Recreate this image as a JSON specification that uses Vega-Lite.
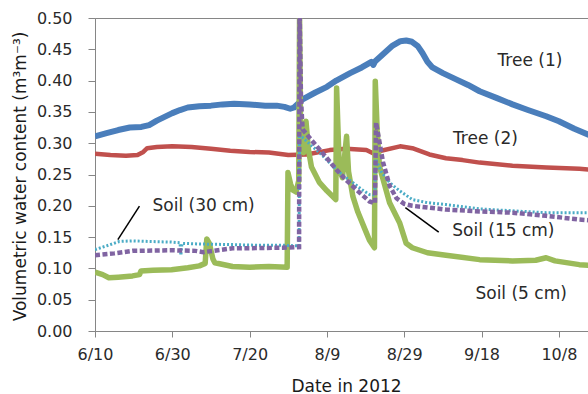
{
  "$schema": "https://vega.github.io/schema/vega-lite/v6.json",
  "width": 494,
  "height": 313,
  "autosize": {"type": "none"},
  "padding": {"left": 95, "top": 18, "right": 0, "bottom": 63},
  "background": "white",
  "config": {
    "font": "DejaVu Sans",
    "view": {"stroke": "#868686", "strokeWidth": 1},
    "axis": {
      "grid": false,
      "domainColor": "#868686",
      "tickColor": "#868686",
      "labelColor": "#2a2a2a",
      "titleColor": "#1a1a1a",
      "labelFontSize": 16,
      "titleFontSize": 17,
      "titleFontWeight": "normal",
      "labelFont": "DejaVu Sans",
      "titleFont": "DejaVu Sans"
    }
  },
  "datasets": {
    "series": [
      {"s": "T1", "date": "2012-06-10", "value": 0.311},
      {"s": "T1", "date": "2012-06-13", "value": 0.316},
      {"s": "T1", "date": "2012-06-16", "value": 0.321},
      {"s": "T1", "date": "2012-06-19", "value": 0.325},
      {"s": "T1", "date": "2012-06-22", "value": 0.326},
      {"s": "T1", "date": "2012-06-24", "value": 0.329},
      {"s": "T1", "date": "2012-06-26", "value": 0.336},
      {"s": "T1", "date": "2012-06-28", "value": 0.342},
      {"s": "T1", "date": "2012-06-30", "value": 0.348},
      {"s": "T1", "date": "2012-07-02", "value": 0.353},
      {"s": "T1", "date": "2012-07-04", "value": 0.357},
      {"s": "T1", "date": "2012-07-07", "value": 0.359},
      {"s": "T1", "date": "2012-07-10", "value": 0.360},
      {"s": "T1", "date": "2012-07-13", "value": 0.362},
      {"s": "T1", "date": "2012-07-16", "value": 0.363},
      {"s": "T1", "date": "2012-07-20", "value": 0.362},
      {"s": "T1", "date": "2012-07-24", "value": 0.360},
      {"s": "T1", "date": "2012-07-27", "value": 0.360},
      {"s": "T1", "date": "2012-07-29", "value": 0.358},
      {"s": "T1", "date": "2012-07-30T12:00Z", "value": 0.355},
      {"s": "T1", "date": "2012-07-31T12:00Z", "value": 0.357},
      {"s": "T1", "date": "2012-08-02T17:00Z", "value": 0.370},
      {"s": "T1", "date": "2012-08-06", "value": 0.381},
      {"s": "T1", "date": "2012-08-09", "value": 0.390},
      {"s": "T1", "date": "2012-08-11T10:00Z", "value": 0.400},
      {"s": "T1", "date": "2012-08-15", "value": 0.412},
      {"s": "T1", "date": "2012-08-18", "value": 0.421},
      {"s": "T1", "date": "2012-08-20T12:00Z", "value": 0.430},
      {"s": "T1", "date": "2012-08-21T00:00Z", "value": 0.425},
      {"s": "T1", "date": "2012-08-21T12:00Z", "value": 0.431},
      {"s": "T1", "date": "2012-08-24", "value": 0.445},
      {"s": "T1", "date": "2012-08-26", "value": 0.456},
      {"s": "T1", "date": "2012-08-28", "value": 0.463},
      {"s": "T1", "date": "2012-08-29T12:00Z", "value": 0.464},
      {"s": "T1", "date": "2012-08-31", "value": 0.462},
      {"s": "T1", "date": "2012-09-01T12:00Z", "value": 0.455},
      {"s": "T1", "date": "2012-09-02T17:00Z", "value": 0.444},
      {"s": "T1", "date": "2012-09-04", "value": 0.430},
      {"s": "T1", "date": "2012-09-05T07:00Z", "value": 0.421},
      {"s": "T1", "date": "2012-09-08", "value": 0.412},
      {"s": "T1", "date": "2012-09-11T10:00Z", "value": 0.402},
      {"s": "T1", "date": "2012-09-14T12:00Z", "value": 0.393},
      {"s": "T1", "date": "2012-09-17T12:00Z", "value": 0.383},
      {"s": "T1", "date": "2012-09-22", "value": 0.372},
      {"s": "T1", "date": "2012-09-26", "value": 0.362},
      {"s": "T1", "date": "2012-09-30", "value": 0.353},
      {"s": "T1", "date": "2012-10-04T17:00Z", "value": 0.343},
      {"s": "T1", "date": "2012-10-08", "value": 0.335},
      {"s": "T1", "date": "2012-10-12", "value": 0.323},
      {"s": "T1", "date": "2012-10-15T19:00Z", "value": 0.313},

      {"s": "T2", "date": "2012-06-10", "value": 0.283},
      {"s": "T2", "date": "2012-06-14", "value": 0.281},
      {"s": "T2", "date": "2012-06-18", "value": 0.280},
      {"s": "T2", "date": "2012-06-21", "value": 0.281},
      {"s": "T2", "date": "2012-06-22T12:00Z", "value": 0.286},
      {"s": "T2", "date": "2012-06-23T12:00Z", "value": 0.292},
      {"s": "T2", "date": "2012-06-26", "value": 0.294},
      {"s": "T2", "date": "2012-06-30", "value": 0.295},
      {"s": "T2", "date": "2012-07-05", "value": 0.294},
      {"s": "T2", "date": "2012-07-10", "value": 0.291},
      {"s": "T2", "date": "2012-07-15", "value": 0.288},
      {"s": "T2", "date": "2012-07-20", "value": 0.286},
      {"s": "T2", "date": "2012-07-25", "value": 0.285},
      {"s": "T2", "date": "2012-07-30", "value": 0.281},
      {"s": "T2", "date": "2012-08-03T17:00Z", "value": 0.282},
      {"s": "T2", "date": "2012-08-09T17:00Z", "value": 0.289},
      {"s": "T2", "date": "2012-08-14", "value": 0.291},
      {"s": "T2", "date": "2012-08-19T05:00Z", "value": 0.289},
      {"s": "T2", "date": "2012-08-20T22:00Z", "value": 0.284},
      {"s": "T2", "date": "2012-08-23", "value": 0.288},
      {"s": "T2", "date": "2012-08-27T22:00Z", "value": 0.295},
      {"s": "T2", "date": "2012-08-31T02:00Z", "value": 0.292},
      {"s": "T2", "date": "2012-09-04T12:00Z", "value": 0.282},
      {"s": "T2", "date": "2012-09-08T19:00Z", "value": 0.276},
      {"s": "T2", "date": "2012-09-13T02:00Z", "value": 0.273},
      {"s": "T2", "date": "2012-09-17T12:00Z", "value": 0.269},
      {"s": "T2", "date": "2012-09-26", "value": 0.264},
      {"s": "T2", "date": "2012-10-04T19:00Z", "value": 0.261},
      {"s": "T2", "date": "2012-10-13T07:00Z", "value": 0.259},
      {"s": "T2", "date": "2012-10-15T19:00Z", "value": 0.258},

      {"s": "S5", "date": "2012-06-10", "value": 0.094},
      {"s": "S5", "date": "2012-06-12", "value": 0.090},
      {"s": "S5", "date": "2012-06-13T14:00Z", "value": 0.085},
      {"s": "S5", "date": "2012-06-16", "value": 0.086},
      {"s": "S5", "date": "2012-06-19T17:00Z", "value": 0.088},
      {"s": "S5", "date": "2012-06-21T12:00Z", "value": 0.090},
      {"s": "S5", "date": "2012-06-21T22:00Z", "value": 0.096},
      {"s": "S5", "date": "2012-06-25", "value": 0.097},
      {"s": "S5", "date": "2012-06-29T19:00Z", "value": 0.098},
      {"s": "S5", "date": "2012-07-04", "value": 0.101},
      {"s": "S5", "date": "2012-07-07", "value": 0.104},
      {"s": "S5", "date": "2012-07-08T12:00Z", "value": 0.108},
      {"s": "S5", "date": "2012-07-08T22:00Z", "value": 0.147},
      {"s": "S5", "date": "2012-07-09T14:00Z", "value": 0.140},
      {"s": "S5", "date": "2012-07-10T12:00Z", "value": 0.115},
      {"s": "S5", "date": "2012-07-11", "value": 0.109},
      {"s": "S5", "date": "2012-07-15T14:00Z", "value": 0.103},
      {"s": "S5", "date": "2012-07-20", "value": 0.102},
      {"s": "S5", "date": "2012-07-25", "value": 0.103},
      {"s": "S5", "date": "2012-07-29T17:00Z", "value": 0.102},
      {"s": "S5", "date": "2012-07-29T22:00Z", "value": 0.253},
      {"s": "S5", "date": "2012-07-30T14:00Z", "value": 0.235},
      {"s": "S5", "date": "2012-07-31T05:00Z", "value": 0.225},
      {"s": "S5", "date": "2012-08-01", "value": 0.222},
      {"s": "S5", "date": "2012-08-01T17:00Z", "value": 0.240},
      {"s": "S5", "date": "2012-08-01T22:00Z", "value": 0.500},
      {"s": "S5", "date": "2012-08-02T05:00Z", "value": 0.300},
      {"s": "S5", "date": "2012-08-03", "value": 0.285},
      {"s": "S5", "date": "2012-08-03T14:00Z", "value": 0.335},
      {"s": "S5", "date": "2012-08-04T05:00Z", "value": 0.290},
      {"s": "S5", "date": "2012-08-05", "value": 0.262},
      {"s": "S5", "date": "2012-08-07T02:00Z", "value": 0.237},
      {"s": "S5", "date": "2012-08-09", "value": 0.224},
      {"s": "S5", "date": "2012-08-11T07:00Z", "value": 0.210},
      {"s": "S5", "date": "2012-08-11T12:00Z", "value": 0.388},
      {"s": "S5", "date": "2012-08-12T05:00Z", "value": 0.258},
      {"s": "S5", "date": "2012-08-13", "value": 0.245},
      {"s": "S5", "date": "2012-08-14T02:00Z", "value": 0.311},
      {"s": "S5", "date": "2012-08-14T14:00Z", "value": 0.255},
      {"s": "S5", "date": "2012-08-15T17:00Z", "value": 0.215},
      {"s": "S5", "date": "2012-08-17", "value": 0.190},
      {"s": "S5", "date": "2012-08-19", "value": 0.160},
      {"s": "S5", "date": "2012-08-20", "value": 0.145},
      {"s": "S5", "date": "2012-08-21T07:00Z", "value": 0.133},
      {"s": "S5", "date": "2012-08-21T12:00Z", "value": 0.399},
      {"s": "S5", "date": "2012-08-22", "value": 0.320},
      {"s": "S5", "date": "2012-08-22T14:00Z", "value": 0.263},
      {"s": "S5", "date": "2012-08-25T05:00Z", "value": 0.205},
      {"s": "S5", "date": "2012-08-27T19:00Z", "value": 0.173},
      {"s": "S5", "date": "2012-08-29T12:00Z", "value": 0.140},
      {"s": "S5", "date": "2012-08-31T02:00Z", "value": 0.133},
      {"s": "S5", "date": "2012-09-04", "value": 0.125},
      {"s": "S5", "date": "2012-09-08T19:00Z", "value": 0.121},
      {"s": "S5", "date": "2012-09-17T12:00Z", "value": 0.114},
      {"s": "S5", "date": "2012-09-26", "value": 0.112},
      {"s": "S5", "date": "2012-10-02", "value": 0.113},
      {"s": "S5", "date": "2012-10-04T17:00Z", "value": 0.117},
      {"s": "S5", "date": "2012-10-07", "value": 0.112},
      {"s": "S5", "date": "2012-10-13T07:00Z", "value": 0.106},
      {"s": "S5", "date": "2012-10-15T19:00Z", "value": 0.105},

      {"s": "S15", "date": "2012-06-10", "value": 0.121},
      {"s": "S15", "date": "2012-06-15", "value": 0.124},
      {"s": "S15", "date": "2012-06-19T17:00Z", "value": 0.128},
      {"s": "S15", "date": "2012-06-29T19:00Z", "value": 0.129},
      {"s": "S15", "date": "2012-07-06", "value": 0.128},
      {"s": "S15", "date": "2012-07-08", "value": 0.126},
      {"s": "S15", "date": "2012-07-15T14:00Z", "value": 0.132},
      {"s": "S15", "date": "2012-07-28T12:00Z", "value": 0.133},
      {"s": "S15", "date": "2012-08-01T19:00Z", "value": 0.134},
      {"s": "S15", "date": "2012-08-01T22:00Z", "value": 0.520},
      {"s": "S15", "date": "2012-08-02T02:00Z", "value": 0.450},
      {"s": "S15", "date": "2012-08-02T07:00Z", "value": 0.370},
      {"s": "S15", "date": "2012-08-02T17:00Z", "value": 0.322},
      {"s": "S15", "date": "2012-08-05", "value": 0.305},
      {"s": "S15", "date": "2012-08-07T02:00Z", "value": 0.290},
      {"s": "S15", "date": "2012-08-09", "value": 0.276},
      {"s": "S15", "date": "2012-08-11T10:00Z", "value": 0.258},
      {"s": "S15", "date": "2012-08-13T12:00Z", "value": 0.244},
      {"s": "S15", "date": "2012-08-15T17:00Z", "value": 0.231},
      {"s": "S15", "date": "2012-08-18", "value": 0.218},
      {"s": "S15", "date": "2012-08-20", "value": 0.207},
      {"s": "S15", "date": "2012-08-21T10:00Z", "value": 0.204},
      {"s": "S15", "date": "2012-08-21T17:00Z", "value": 0.333},
      {"s": "S15", "date": "2012-08-23T12:00Z", "value": 0.270},
      {"s": "S15", "date": "2012-08-25T05:00Z", "value": 0.232},
      {"s": "S15", "date": "2012-08-27", "value": 0.212},
      {"s": "S15", "date": "2012-08-29", "value": 0.203},
      {"s": "S15", "date": "2012-08-31T02:00Z", "value": 0.200},
      {"s": "S15", "date": "2012-09-08T19:00Z", "value": 0.194},
      {"s": "S15", "date": "2012-09-17T12:00Z", "value": 0.191},
      {"s": "S15", "date": "2012-09-26", "value": 0.189},
      {"s": "S15", "date": "2012-10-04T17:00Z", "value": 0.184},
      {"s": "S15", "date": "2012-10-13T07:00Z", "value": 0.178},
      {"s": "S15", "date": "2012-10-15T19:00Z", "value": 0.177},

      {"s": "S30", "date": "2012-06-10", "value": 0.130},
      {"s": "S30", "date": "2012-06-13", "value": 0.136},
      {"s": "S30", "date": "2012-06-16T07:00Z", "value": 0.143},
      {"s": "S30", "date": "2012-06-19T17:00Z", "value": 0.144},
      {"s": "S30", "date": "2012-06-24", "value": 0.143},
      {"s": "S30", "date": "2012-06-29T19:00Z", "value": 0.142},
      {"s": "S30", "date": "2012-07-02", "value": 0.141},
      {"s": "S30", "date": "2012-07-02T05:00Z", "value": 0.121},
      {"s": "S30", "date": "2012-07-02T12:00Z", "value": 0.140},
      {"s": "S30", "date": "2012-07-07", "value": 0.139},
      {"s": "S30", "date": "2012-07-15T14:00Z", "value": 0.138},
      {"s": "S30", "date": "2012-07-22", "value": 0.137},
      {"s": "S30", "date": "2012-07-28T12:00Z", "value": 0.137},
      {"s": "S30", "date": "2012-08-01T19:00Z", "value": 0.136},
      {"s": "S30", "date": "2012-08-01T22:00Z", "value": 0.311},
      {"s": "S30", "date": "2012-08-02T17:00Z", "value": 0.309},
      {"s": "S30", "date": "2012-08-05", "value": 0.296},
      {"s": "S30", "date": "2012-08-07T02:00Z", "value": 0.285},
      {"s": "S30", "date": "2012-08-09", "value": 0.273},
      {"s": "S30", "date": "2012-08-11T10:00Z", "value": 0.258},
      {"s": "S30", "date": "2012-08-13T12:00Z", "value": 0.247},
      {"s": "S30", "date": "2012-08-15T17:00Z", "value": 0.237},
      {"s": "S30", "date": "2012-08-18", "value": 0.226},
      {"s": "S30", "date": "2012-08-20", "value": 0.218},
      {"s": "S30", "date": "2012-08-21T10:00Z", "value": 0.217},
      {"s": "S30", "date": "2012-08-21T14:00Z", "value": 0.275},
      {"s": "S30", "date": "2012-08-23", "value": 0.255},
      {"s": "S30", "date": "2012-08-25T05:00Z", "value": 0.237},
      {"s": "S30", "date": "2012-08-27T19:00Z", "value": 0.224},
      {"s": "S30", "date": "2012-08-31T02:00Z", "value": 0.210},
      {"s": "S30", "date": "2012-09-04", "value": 0.205},
      {"s": "S30", "date": "2012-09-08T19:00Z", "value": 0.202},
      {"s": "S30", "date": "2012-09-17T12:00Z", "value": 0.195},
      {"s": "S30", "date": "2012-09-26", "value": 0.192},
      {"s": "S30", "date": "2012-10-04T17:00Z", "value": 0.189},
      {"s": "S30", "date": "2012-10-13T07:00Z", "value": 0.189},
      {"s": "S30", "date": "2012-10-15T19:00Z", "value": 0.189}
    ],
    "labels": [
      {"label": "Tree (1)", "date": "2012-09-30T12:00Z", "value": 0.431, "a": "center"},
      {"label": "Tree (2)", "date": "2012-09-19", "value": 0.306, "a": "center"},
      {"label": "Soil (30 cm)", "date": "2012-06-24T21:00Z", "value": 0.199, "a": "left"},
      {"label": "Soil (15 cm)", "date": "2012-09-10T10:00Z", "value": 0.159, "a": "left"},
      {"label": "Soil (5 cm)", "date": "2012-09-16T10:00Z", "value": 0.0586, "a": "left"}
    ],
    "leaders": [
      {"date": "2012-06-21T12:00Z", "value": 0.1995, "date2": "2012-06-15T22:00Z", "value2": 0.146},
      {"date": "2012-08-29T07:00Z", "value": 0.197, "date2": "2012-09-06T22:00Z", "value2": 0.158}
    ]
  },
  "data": {"name": "series"},
  "encoding": {
    "x": {
      "field": "date",
      "type": "temporal",
      "scale": {
        "type": "utc",
        "domain": [
          {"year": 2012, "month": 6, "date": 10, "utc": true},
          {"year": 2012, "month": 10, "date": 15, "hours": 19, "utc": true}
        ]
      },
      "axis": {
        "title": "Date in 2012",
        "values": [
          {"year": 2012, "month": 6, "date": 10, "utc": true},
          {"year": 2012, "month": 6, "date": 30, "utc": true},
          {"year": 2012, "month": 7, "date": 20, "utc": true},
          {"year": 2012, "month": 8, "date": 9, "utc": true},
          {"year": 2012, "month": 8, "date": 29, "utc": true},
          {"year": 2012, "month": 9, "date": 18, "utc": true},
          {"year": 2012, "month": 10, "date": 8, "utc": true}
        ],
        "labelExpr": "utcFormat(datum.value, '%-m/%-d')",
        "tickSize": 6,
        "labelPadding": 9,
        "labelFlush": false,
        "labelOverlap": false,
        "titleBaseline": "alphabetic",
        "titleAlign": "center",
        "titleX": 251,
        "titleY": 60
      }
    },
    "y": {
      "field": "value",
      "type": "quantitative",
      "scale": {"domain": [0, 0.5], "nice": false, "zero": true},
      "axis": {
        "title": "Volumetric water content  (m³m⁻³)",
        "values": [0, 0.05, 0.1, 0.15, 0.2, 0.25, 0.3, 0.35, 0.4, 0.45, 0.5],
        "format": ".2f",
        "tickSize": 7,
        "labelPadding": 16,
        "labelFlush": false,
        "labelOverlap": false,
        "titleBaseline": "alphabetic",
        "titleAlign": "center",
        "titleAngle": -90,
        "titleX": -70,
        "titleY": 158
      }
    }
  },
  "layer": [
    {
      "transform": [{"filter": "datum.s === 'T1'"}],
      "mark": {"type": "line", "color": "#4A7EBB", "strokeWidth": 6, "clip": true, "strokeJoin": "round"}
    },
    {
      "transform": [{"filter": "datum.s === 'T2'"}],
      "mark": {"type": "line", "color": "#C0504D", "strokeWidth": 4.5, "clip": true, "strokeJoin": "round"}
    },
    {
      "transform": [{"filter": "datum.s === 'S5'"}],
      "mark": {"type": "line", "color": "#9BBB59", "strokeWidth": 5.5, "clip": true, "strokeJoin": "round"}
    },
    {
      "transform": [{"filter": "datum.s === 'S30'"}],
      "mark": {"type": "line", "color": "#4BACC6", "strokeWidth": 3, "strokeDash": [2, 2], "clip": true}
    },
    {
      "transform": [{"filter": "datum.s === 'S15'"}],
      "mark": {"type": "line", "color": "#8064A2", "strokeWidth": 4.5, "strokeDash": [5, 2.5], "clip": true}
    },
    {
      "data": {"name": "leaders"},
      "mark": {"type": "rule", "color": "#000000", "strokeWidth": 1.5},
      "encoding": {
        "x2": {"field": "date2"},
        "y2": {"field": "value2"}
      }
    },
    {
      "data": {"name": "labels"},
      "transform": [{"filter": "datum.a === 'center'"}],
      "mark": {"type": "text", "align": "center", "baseline": "middle", "fontSize": 17, "color": "#2a2a2a", "font": "DejaVu Sans"},
      "encoding": {"text": {"field": "label"}}
    },
    {
      "data": {"name": "labels"},
      "transform": [{"filter": "datum.a === 'left'"}],
      "mark": {"type": "text", "align": "left", "baseline": "middle", "fontSize": 17, "color": "#2a2a2a", "font": "DejaVu Sans"},
      "encoding": {"text": {"field": "label"}}
    }
  ]
}
